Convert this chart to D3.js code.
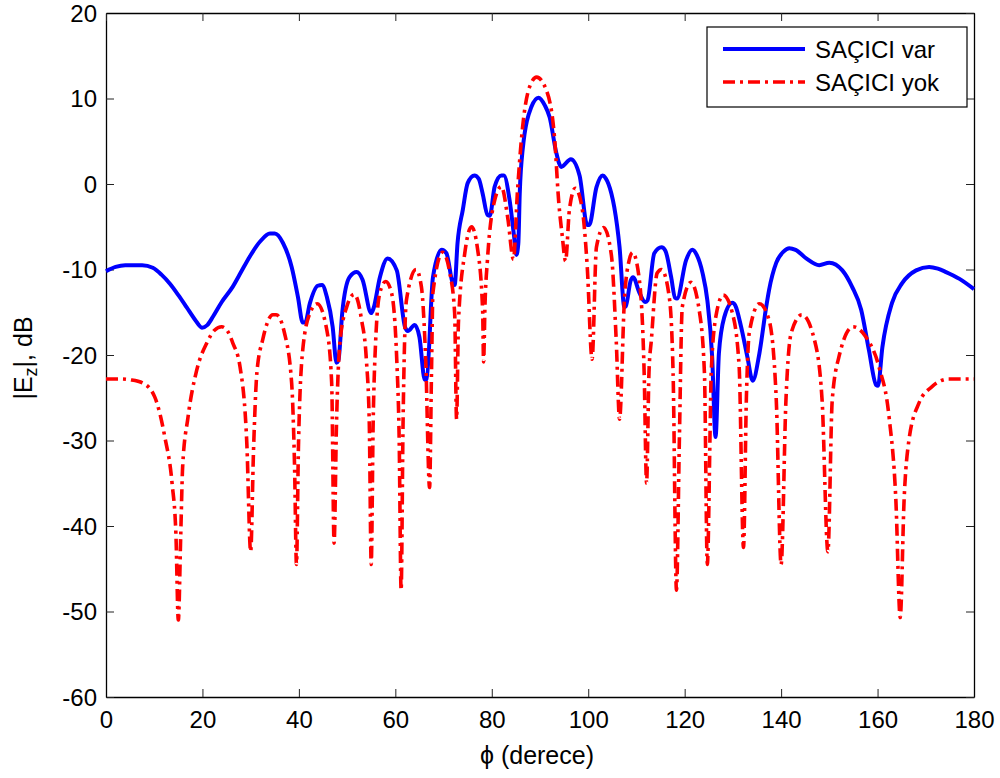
<!DOCTYPE html>
<html>
<head>
<meta charset="utf-8">
<script src="https://cdn.jsdelivr.net/npm/d3@7"></script>
<style>
  html, body { margin: 0; padding: 0; background: #fff; }
  svg { display: block; }
  text { font-family: "Liberation Sans", Arial, sans-serif; fill: #000; }
</style>
</head>
<body>
<svg id="chart" width="1000" height="778"></svg>
<script>
// ---- Data ----
const xTicks = [0, 20, 40, 60, 80, 100, 120, 140, 160, 180];
const yTicks = [-60, -50, -40, -30, -20, -10, 0, 10, 20];
const seriesNames = ["SAÇICI var", "SAÇICI yok"];

// SAÇICI var (blue, solid): [phi in degrees, |Ez| in dB]
const varPhi = [0, 2, 4, 7.5, 9.7, 11.5, 13.3, 15, 16.7, 18.5, 19.9, 21, 22.2, 24, 26.3, 28, 29.8, 32, 34, 35,
  36.7, 38.5, 39.8, 40.8, 41.3, 42.3, 43.9, 44.8, 45.8, 47, 47.8, 48.2, 49, 50.5, 52, 53.2, 55, 55.5, 56.8, 58.4,
  60.3, 62, 62.6, 64, 65, 66.1, 66.5, 67.8, 69.6, 70.6, 71.9, 72.3, 72.9, 74, 75, 76.4, 77.3, 78.1, 79.1, 79.6,
  80.6, 82, 82.5, 83.7, 84.6, 85.1, 85.5, 85.8, 86.4, 88.2, 89.7, 91, 92, 93.4, 94.4, 96.4, 98.2, 99.8, 100.2, 101.7,
  103, 103.6, 104.8, 105.4, 106.5, 107.5, 107.8, 108.8, 109.3, 110.6, 111.8, 112.3, 113.7, 115.2, 116, 117.2, 118, 118.4, 120.3, 121.6,
  122.5, 123.7, 124.7, 125.7, 126.4, 127.1, 128.2, 129.9, 130.5, 131.7, 133, 134.1, 135.5, 136.9, 137.5, 139, 140.5, 141.7, 143, 145.2,
  147.9, 150, 152.7, 154.7, 156.6, 158.2, 159.7, 160.1, 161, 163, 165.1, 168, 170.7, 172.5, 174.2, 177, 180];
const varDb = [-10.2, -9.7, -9.5, -9.5, -9.8, -10.6, -11.7, -13, -14.4, -15.9, -16.8, -16.5, -15.5, -13.8, -12.0, -10.3, -8.5, -6.7, -5.8, -5.8,
  -6.9, -9.7, -13.2, -16.2, -16.2, -13.9, -11.9, -11.8, -13.2, -16.7, -20.9, -20.6, -15, -10.9, -10.3, -11.2, -15.1, -14.5, -10.9, -8.7,
  -10.1, -16.7, -17.2, -16.5, -17.9, -22.9, -22.8, -10.9, -7.7, -8.1, -11.6, -11.8, -6.9, -3.0, 0.1, 1.0, 0.6, -1.1, -3.6, -3.7,
  -0.3, 1.0, 1.0, -1.9, -6, -8.3, -7, -1.1, 4.0, 9.0, 10.1, 9.2, 7.8, 3.6, 2.0, 2.9, 1.0, -4.8, -4.8, -0.4,
  1.0, 0.7, -1.1, -2.7, -7.4, -14.4, -14.3, -11.3, -10.9, -12.7, -13.8, -13.6, -8.1, -7.4, -7.8, -10.9, -13.3, -13.4, -8.9, -7.7,
  -8.3, -10.4, -13.6, -20.2, -29.6, -19.8, -15.6, -13.9, -14.2, -16.7, -20.2, -23, -19.8, -14.4, -12.4, -9.2, -7.9, -7.5, -7.7, -8.7,
  -9.5, -9.2, -10.1, -12.0, -14.7, -19.4, -23.5, -23.6, -19.1, -13.9, -11.6, -10.1, -9.7, -9.9, -10.3, -11.1, -12.3];

// SAÇICI yok (red, dash-dot)
const yokPhi = [0, 3, 5, 7.7, 10.1, 12.2, 13.7, 14.5, 15, 15.5, 15.9, 17, 18.8, 20.9, 22.5, 24, 25.2, 26.3, 27.8, 29.2,
  30, 30.6, 31.3, 32.5, 34.6, 35.3, 37, 38.5, 39.1, 39.5, 39.9, 40.8, 42.3, 43.8, 45.8, 46.8, 47.3, 47.8, 48.5, 49.9,
  51.5, 53, 54, 54.6, 55, 55.4, 55.9, 56.8, 58, 59.2, 60.3, 60.8, 61.2, 61.6, 62.3, 64.3, 65.4, 66.3, 67.1, 67.5,
  67.8, 69.8, 71.3, 72.3, 72.7, 73.1, 74.4, 75.8, 77, 78.1, 78.3, 78.6, 79.1, 80.6, 82, 83.3, 84.5, 85.3, 86.4, 87.8,
  89.3, 91.3, 93, 93.9, 94.6, 95.3, 96.1, 97.3, 98.7, 99.8, 100.8, 101.7, 103.2, 104.8, 105.8, 106.5, 107.5, 108.5, 109.2, 110.6,
  111.6, 112.1, 112.6, 113.1, 114.3, 115.2, 116.8, 117.6, 118.3, 118.9, 119.5, 121.3, 123, 124.1, 124.7, 125.3, 125.5, 126.6, 128, 129.9,
  131.3, 132.2, 132.8, 133.4, 135.5, 137.5, 139, 140, 141, 142.1, 144.3, 146.9, 148.5, 149.7, 150.6, 152, 154.9, 157.6, 160.3, 162.4,
  163.8, 164.7, 165.5, 166.5, 168.6, 171.3, 174.8, 180];
const yokDb = [-22.8, -22.8, -22.9, -23.3, -24.9, -29.6, -35, -41, -51, -41, -33, -27.3, -21.8, -18.6, -17.1, -16.7, -17.2, -18.6, -21.4, -30.3,
  -43, -31, -22, -18.2, -15.3, -15.3, -17.4, -23.3, -33, -44.5, -31, -19.4, -15.1, -14.0, -17.1, -23.3, -42, -28, -18.6, -14.4,
  -12.9, -15.9, -20.6, -28, -44.5, -28, -18.6, -12.7, -11.4, -12.7, -20.6, -30, -47.5, -28, -13.6, -10.0, -12.0, -20.6, -35.5, -22,
  -12.7, -8.0, -10.4, -15.1, -27.5, -16, -8.1, -5.0, -7.4, -14.7, -20.8, -14, -8.9, -1.9, -0.3, -3.9, -8.8, -1.1, 6.7, 11.3,
  12.5, 11.0, 5.5, -2.2, -6, -9, -3.0, -0.5, -2.7, -9.7, -20.5, -7.4, -5.1, -8.3, -18.2, -27.5, -13.6, -8.9, -8.0, -11.2,
  -22.1, -35, -22, -18.2, -10.4, -10.0, -13.2, -22.1, -47.5, -30, -14.4, -11.5, -14.7, -22.1, -44.5, -28, -22.1, -15.1, -13, -15.1,
  -21.4, -42.5, -25, -17.4, -14, -15.9, -25.3, -44.5, -25.3, -17.4, -15.3, -18.2, -25.3, -43, -25.3, -20.2, -16.7, -17.9, -21.4, -27.3,
  -37, -50.7, -37, -30, -25.6, -23.7, -22.8, -22.8];

// ---- Layout ----
const svg = d3.select("#chart");
const L = 106, R = 974, T = 13, B = 697;
const x = d3.scaleLinear().domain([0, 180]).range([L, R]);
const y = d3.scaleLinear().domain([-60, 20]).range([B, T]);

const FONT = 24;
const tickLen = 8;
const fmt = d => String(d); // plain hyphen-minus, as in the reference

// axes
const gB = svg.append("g").attr("transform", `translate(0,${B})`)
  .call(d3.axisBottom(x).tickValues(xTicks).tickSizeInner(-tickLen).tickSizeOuter(0).tickPadding(14).tickFormat(fmt));
const gL = svg.append("g").attr("transform", `translate(${L},0)`)
  .call(d3.axisLeft(y).tickValues(yTicks).tickSizeInner(-tickLen).tickSizeOuter(0).tickPadding(9).tickFormat(fmt));
const gT = svg.append("g").attr("transform", `translate(0,${T})`)
  .call(d3.axisTop(x).tickValues(xTicks).tickSizeInner(-tickLen).tickSizeOuter(0).tickFormat(""));
const gR = svg.append("g").attr("transform", `translate(${R},0)`)
  .call(d3.axisRight(y).tickValues(yTicks).tickSizeInner(-tickLen).tickSizeOuter(0).tickFormat(""));

[gB, gL, gT, gR].forEach(g => {
  g.selectAll("path.domain").attr("stroke", "#000").attr("stroke-width", 1.3);
  g.selectAll(".tick line").attr("stroke", "#222").attr("stroke-width", 1);
  g.selectAll("text").attr("font-size", FONT).attr("font-family", '"Liberation Sans", Arial, sans-serif').attr("fill", "#000");
});
gB.selectAll("text").attr("dy", "0.71em");
gL.selectAll("text").attr("dy", "0.34em");

// lines
const lineGen = d3.line().x(d => x(d[0])).y(d => y(d[1])).curve(d3.curveMonotoneX);
const varData = varPhi.map((p, i) => [p, varDb[i]]);
const yokData = yokPhi.map((p, i) => [p, yokDb[i]]);

const plot = svg.append("g");
plot.append("path").datum(varData)
  .attr("d", lineGen).attr("fill", "none").attr("stroke", "#0000ff")
  .attr("stroke-width", 4).attr("stroke-linejoin", "round");
plot.append("path").datum(yokData)
  .attr("d", lineGen).attr("fill", "none").attr("stroke", "#ff0000")
  .attr("stroke-width", 3.6).attr("stroke-dasharray", "12,5,3,5").attr("stroke-linejoin", "round");

// axis labels
svg.append("text").attr("x", 537).attr("y", 764).attr("text-anchor", "middle")
  .attr("font-size", 25).text("ϕ (derece)");

const yl = svg.append("text").attr("transform", "translate(32,358) rotate(-90)")
  .attr("text-anchor", "middle").attr("font-size", 25);
yl.append("tspan").text("|E");
yl.append("tspan").attr("font-size", 18).attr("dy", 5).text("z");
yl.append("tspan").attr("dy", -5).text("|, dB");

// legend
const lg = svg.append("g");
lg.append("rect").attr("x", 707).attr("y", 27).attr("width", 260).attr("height", 80)
  .attr("fill", "#fff").attr("stroke", "#000").attr("stroke-width", 1.2);
const legendItems = [
  { name: seriesNames[0], color: "#0000ff", dash: null, w: 4, yy: 49 },
  { name: seriesNames[1], color: "#ff0000", dash: "12,5,3,5", w: 3.6, yy: 82 }
];
legendItems.forEach(it => {
  const l = lg.append("line").attr("x1", 723).attr("x2", 805).attr("y1", it.yy).attr("y2", it.yy)
    .attr("stroke", it.color).attr("stroke-width", it.w);
  if (it.dash) l.attr("stroke-dasharray", it.dash);
  lg.append("text").attr("x", 815).attr("y", it.yy + 9).attr("font-size", FONT).text(it.name);
});
</script>
</body>
</html>
